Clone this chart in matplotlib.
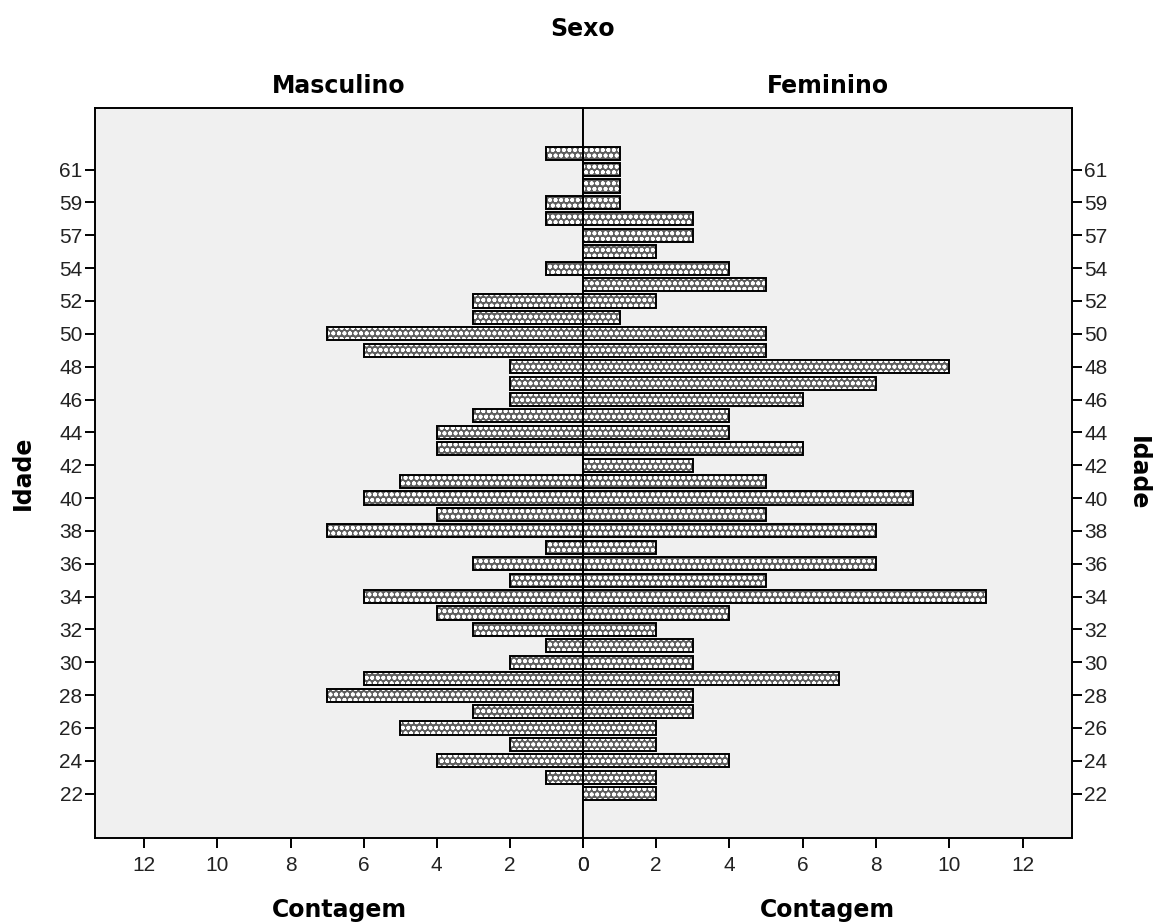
import numpy as np
import matplotlib.pyplot as plt

plt.rcParams['font.family'] = ['Liberation Sans Narrow', 'Liberation Sans', 'DejaVu Sans']
plt.rcParams['hatch.linewidth'] = 1.2

# idades (categorias) de baixo para cima
idades = [22, 23, 24, 25, 26, 27, 28, 29, 30, 31, 32, 33, 34, 35, 36, 37, 38, 39,
          40, 41, 42, 43, 44, 45, 46, 47, 48, 49, 50, 51, 52, 53, 54, 55, 57, 58,
          59, 60, 61, 62]
masculino = [0, 1, 4, 2, 5, 3, 7, 6, 2, 1, 3, 4, 6, 2, 3, 1, 7, 4,
             6, 5, 0, 4, 4, 3, 2, 2, 2, 6, 7, 3, 3, 0, 1, 0, 0, 1,
             1, 0, 0, 1]
feminino = [2, 2, 4, 2, 2, 3, 3, 7, 3, 3, 2, 4, 11, 5, 8, 2, 8, 5,
            9, 5, 3, 6, 4, 4, 6, 8, 10, 5, 5, 1, 2, 5, 4, 2, 3, 3,
            1, 1, 1, 1]
xticks = [0, 2, 4, 6, 8, 10, 12]

pos = np.arange(len(idades))
bg = '#f0f0f0'
fill = '#5e5e5e'
bold = dict(family='DejaVu Sans', fontweight='bold', fontsize=17)

fig = plt.figure(figsize=(11.56, 9.24), dpi=100)
axL = fig.add_axes([0.0822, 0.0931, 0.4221, 0.79])
axR = fig.add_axes([0.5043, 0.0931, 0.4230, 0.79])

def desenha(ax, vals):
    ax.set_facecolor(bg)
    ax.barh(pos, vals, height=0.8, color=fill, edgecolor='white', hatch='ooo',
            linewidth=0, zorder=2)
    ax.barh(pos, vals, height=0.8, facecolor='none', edgecolor='black',
            linewidth=1.4, zorder=3)
    ax.set_xlim(0, 13.35)
    ax.set_ylim(-2.7, len(idades) - 1 + 2.75)
    ax.set_xticks(xticks)
    ax.set_yticks(pos[::2])
    ax.set_yticklabels([str(a) for a in idades[::2]])
    ax.tick_params(axis='both', direction='out', length=7, width=1.4,
                   labelsize=15, colors='black', labelcolor='#222222', pad=2)
    ax.tick_params(axis='x', pad=6)
    for s in ax.spines.values():
        s.set_linewidth(1.4)
        s.set_color('black')

desenha(axL, masculino)
axL.invert_xaxis()

desenha(axR, feminino)
axR.yaxis.tick_right()

fig.text(0.5043, 0.969, 'Sexo', ha='center', va='center', **bold)
fig.text(0.2933, 0.907, 'Masculino', ha='center', va='center', **bold)
fig.text(0.7160, 0.907, 'Feminino', ha='center', va='center', **bold)
fig.text(0.2933, 0.008, 'Contagem', ha='center', va='baseline', **bold)
fig.text(0.7160, 0.008, 'Contagem', ha='center', va='baseline', **bold)
fig.text(0.0199, 0.488, 'Idade', ha='center', va='center', rotation=90, **bold)
fig.text(0.9844, 0.488, 'Idade', ha='center', va='center', rotation=270, **bold)

fig.savefig('out.png', dpi=100, facecolor='white')
